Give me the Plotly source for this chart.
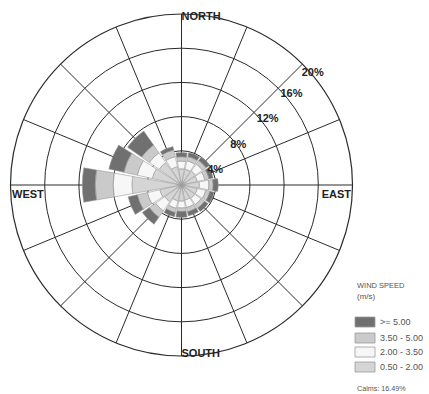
import plotly.graph_objects as go

# Wind rose: frequency (%) of each wind-speed class by direction sector
directions = ["N", "NNE", "NE", "ENE", "E", "ESE", "SE", "SSE",
              "S", "SSW", "SW", "WSW", "W", "WNW", "NW", "NNW"]

speed_classes = ["0.50 - 2.00", "2.00 - 3.50", "3.50 - 5.00", ">= 5.00"]
freq_050_200 = [1.9, 1.9, 2.0, 1.9, 2.1, 1.9, 1.9, 1.8, 1.9, 1.9, 2.4, 2.6, 5.8, 3.5, 3.2, 2.2]
freq_200_350 = [0.9, 1.0, 1.0, 0.9, 1.1, 1.0, 0.9, 0.9, 0.8, 0.9, 1.3, 1.5, 2.2, 1.8, 1.4, 1.2]
freq_350_500 = [0.5, 0.5, 0.5, 0.5, 0.5, 0.5, 0.5, 0.5, 0.4, 0.5, 0.9, 1.2, 2.1, 1.6, 1.1, 0.8]
freq_500_up = [0.5, 0.5, 0.5, 0.5, 0.6, 0.5, 0.5, 0.5, 0.7, 0.5, 1.0, 1.1, 1.5, 1.8, 2.0, 0.4]
class_freqs = [freq_050_200, freq_200_350, freq_350_500, freq_500_up]

ring_values = [4, 8, 12, 16, 20]
ring_labels = ["4%", "8%", "12%", "16%", "20%"]
compass_labels = ["NORTH", "EAST", "SOUTH", "WEST"]
calms_pct = 16.49

class_colors = ["#d5d5d5", "#f7f7f7", "#cacaca", "#707070"]

W, H = 429, 394
bearings = [i * 360 / len(directions) for i in range(len(directions))]

fig = go.Figure()

for name, vals, col in zip(speed_classes, class_freqs, class_colors):
    fig.add_trace(go.Barpolar(
        r=vals, theta=bearings, name=name, width=20,
        marker=dict(color=col, line=dict(color="#9a9a9a", width=0.6)),
        showlegend=False, hoverinfo="skip",
    ))

# percentage labels set just outside each ring
label_r = [4.3, 8.1, 12.7, 16.7, 18.8]
label_theta = [66, 55, 52.5, 50.4, 48.4]
label_pos = ["middle center"] * 4 + ["top right"]
fig.add_trace(go.Scatterpolar(
    r=label_r, theta=label_theta, mode="text",
    text=["<b>%s</b>" % t for t in ring_labels],
    textfont=dict(family="Liberation Sans, Arial", size=11, color="#222"),
    textposition=label_pos, cliponaxis=False, showlegend=False,
    hoverinfo="skip",
))

# compass point names inside the outer ring
compass_r = [19.6, 19.86, 19.8, 19.86]
compass_theta = [0, 93.4, 180, 266.6]
compass_pos = ["middle right", "middle left", "middle right", "middle right"]
fig.add_trace(go.Scatterpolar(
    r=compass_r, theta=compass_theta, mode="text",
    text=["<b>%s</b>" % t for t in compass_labels],
    textposition=compass_pos,
    textfont=dict(family="Liberation Sans, Arial", size=11, color="#222"),
    cliponaxis=False, showlegend=False, hoverinfo="skip",
))

# legend block
lx0, lx1, tx = 355, 375, 378
sw_rows = [(317, 327), (333, 343), (347, 357), (362, 372)]
shapes = []
annotations = []
legend_order = [3, 2, 1, 0]
for (y0, y1), k in zip(sw_rows, legend_order):
    shapes.append(dict(type="rect", xref="paper", yref="paper",
                       x0=lx0 / W, x1=lx1 / W, y0=1 - y1 / H, y1=1 - y0 / H,
                       fillcolor=class_colors[k], line=dict(color="#999", width=0.8)))
    annotations.append(dict(x=tx / W, y=1 - (y0 + y1) / 2 / H, xref="paper", yref="paper",
                            text=speed_classes[k], showarrow=False, xanchor="left",
                            yanchor="middle",
                            font=dict(family="Liberation Sans, Arial", size=9, color="#555")))
for txt, ypx, fs in [("WIND SPEED", 285, 7.5), ("(m/s)", 296, 8),
                     ("Calms: %.2f%%" % calms_pct, 388, 7.2)]:
    annotations.append(dict(x=lx0 / W, y=1 - ypx / H, xref="paper", yref="paper",
                            text=txt, showarrow=False, xanchor="left", yanchor="middle",
                            font=dict(family="Liberation Sans, Arial", size=fs, color="#555")))

cx, cy, rad = 181.5, 185, 171
fig.update_layout(
    width=W, height=H, margin=dict(l=0, r=0, t=0, b=0),
    paper_bgcolor="white", plot_bgcolor="white",
    shapes=shapes, annotations=annotations,
    polar=dict(
        domain=dict(x=[(cx - rad) / W, (cx + rad) / W],
                    y=[(H - cy - rad) / H, (H - cy + rad) / H]),
        bgcolor="white", barmode="stack",
        radialaxis=dict(range=[0, ring_values[-1]], tickvals=ring_values,
                        showticklabels=False, ticks="", showline=False,
                        gridcolor="#2a2a2a", gridwidth=1),
        angularaxis=dict(rotation=90, direction="clockwise", tickmode="linear",
                         tick0=0, dtick=22.5, showticklabels=False, ticks="",
                         showline=True, linecolor="#2a2a2a", linewidth=1.2,
                         gridcolor="#2a2a2a", gridwidth=1),
    ),
)

fig.write_html("out.html")
